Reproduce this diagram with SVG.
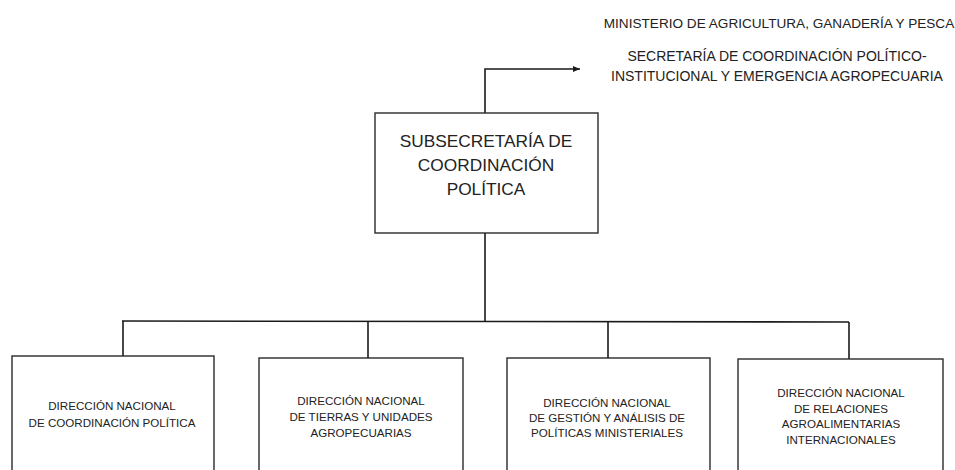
<svg xmlns="http://www.w3.org/2000/svg" width="955" height="470" viewBox="0 0 955 470">
  <style>
    .box { fill: #ffffff; stroke: #2a2a2a; stroke-width: 1.4; }
    .conn { fill: none; stroke: #1a1a1a; stroke-width: 1.6; }
    text { font-family: "Liberation Sans", Arial, sans-serif; fill: #222222; text-anchor: middle; }
    .hdr { font-size: 13.6px; }
    .hdr2 { font-size: 14px; }
    .main { font-size: 17.3px; }
    .sub { font-size: 11.6px; }
  </style>
  <defs>
    <marker id="arrow" markerWidth="8" markerHeight="8" refX="7" refY="4" orient="auto" markerUnits="userSpaceOnUse">
      <path d="M0,1 L7,4 L0,7 Z" fill="#1a1a1a"/>
    </marker>
  </defs>

  <rect width="955" height="470" fill="#ffffff"/>

  <g id="header-ministerio">
    <text class="hdr" x="779" y="28">MINISTERIO DE AGRICULTURA, GANADERÍA Y PESCA</text>
  </g>
  <g id="header-secretaria">
    <text class="hdr2" x="777" y="61">SECRETARÍA DE COORDINACIÓN POLÍTICO-</text>
    <text class="hdr2" x="777" y="81">INSTITUCIONAL Y EMERGENCIA AGROPECUARIA</text>
  </g>

  <g id="connectors">
    <polyline class="conn" points="485,113 485,69 580,69" marker-end="url(#arrow)"/>
    <line class="conn" x1="485" y1="233" x2="485" y2="322"/>
    <line class="conn" x1="122" y1="321" x2="849" y2="322"/>
    <line class="conn" x1="123" y1="321" x2="123" y2="356"/>
    <line class="conn" x1="368" y1="321" x2="368" y2="358"/>
    <line class="conn" x1="608" y1="322" x2="608" y2="358"/>
    <line class="conn" x1="849" y1="322" x2="849" y2="359"/>
  </g>

  <g id="subsecretaria">
    <rect class="box" x="375" y="113" width="223" height="120"/>
    <text class="main" x="486" y="147">SUBSECRETARÍA DE</text>
    <text class="main" x="486" y="171">COORDINACIÓN</text>
    <text class="main" x="486" y="195">POLÍTICA</text>
  </g>

  <g id="dn-coordinacion">
    <rect class="box" x="12" y="356" width="202" height="125"/>
    <text class="sub" x="112" y="410">DIRECCIÓN NACIONAL</text>
    <text class="sub" x="112" y="427">DE COORDINACIÓN POLÍTICA</text>
  </g>

  <g id="dn-tierras">
    <rect class="box" x="259" y="358" width="204" height="125"/>
    <text class="sub" x="361" y="405">DIRECCIÓN NACIONAL</text>
    <text class="sub" x="361" y="421">DE TIERRAS Y UNIDADES</text>
    <text class="sub" x="361" y="437">AGROPECUARIAS</text>
  </g>

  <g id="dn-gestion">
    <rect class="box" x="507" y="358" width="203" height="125"/>
    <text class="sub" x="607" y="407">DIRECCIÓN NACIONAL</text>
    <text class="sub" x="607" y="422">DE GESTIÓN Y ANÁLISIS DE</text>
    <text class="sub" x="607" y="437">POLÍTICAS MINISTERIALES</text>
  </g>

  <g id="dn-relaciones">
    <rect class="box" x="738" y="359" width="205" height="125"/>
    <text class="sub" x="841" y="397">DIRECCIÓN NACIONAL</text>
    <text class="sub" x="841" y="413">DE RELACIONES</text>
    <text class="sub" x="841" y="428">AGROALIMENTARIAS</text>
    <text class="sub" x="841" y="444">INTERNACIONALES</text>
  </g>
</svg>
